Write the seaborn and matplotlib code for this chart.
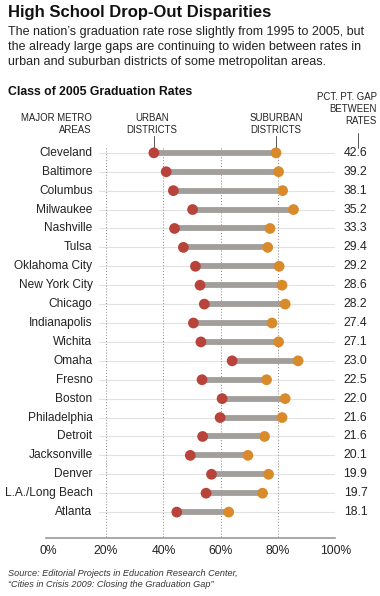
import pandas as pd
import matplotlib.pyplot as plt
import seaborn as sns

# Veriler
cities = ['Cleveland', 'Baltimore', 'Columbus', 'Milwaukee', 'Nashville', 'Tulsa',
          'Oklahoma City', 'New York City', 'Chicago', 'Indianapolis', 'Wichita',
          'Omaha', 'Fresno', 'Boston', 'Philadelphia', 'Detroit', 'Jacksonville',
          'Denver', 'L.A./Long Beach', 'Atlanta']
urban = [36.7, 41.0, 43.5, 50.2, 43.9, 47.0, 51.2, 52.8, 54.3, 50.5, 53.1,
         64.0, 53.5, 60.5, 59.8, 53.7, 49.4, 56.8, 54.9, 44.7]
suburban = [79.3, 80.2, 81.6, 85.4, 77.2, 76.4, 80.4, 81.4, 82.5, 77.9, 80.2,
            87.0, 76.0, 82.5, 81.4, 75.3, 69.5, 76.7, 74.6, 62.8]
gap_labels = ['42.6', '39.2', '38.1', '35.2', '33.3', '29.4', '29.2', '28.6', '28.2',
              '27.4', '27.1', '23.0', '22.5', '22.0', '21.6', '21.6', '20.1', '19.9',
              '19.7', '18.1']
x_ticks = [0, 20, 40, 60, 80, 100]

df = pd.DataFrame({'city': cities, 'urban': urban, 'suburban': suburban})
df['row'] = range(len(df))
long_df = df.melt(id_vars=['city', 'row'], value_vars=['urban', 'suburban'],
                  var_name='type', value_name='rate')

sns.set_style('white')
plt.rcParams['font.family'] = ['Liberation Sans', 'DejaVu Sans']

RED = '#b8433a'
ORANGE = '#d98b2b'
BAR = '#a19e9b'
TXT = '#222222'

fig = plt.figure(figsize=(3.8, 5.96), dpi=100)
ax = fig.add_axes([0.1205, 0.0973, 0.762, 0.678])

n = len(cities)
# satir cizgileri ve noktali dikey cizgiler
for r in range(n):
    ax.plot([17.5, 99.5], [r, r], color='#e2e2e2', lw=0.8, zorder=0)
for xv in [20, 40, 60, 80]:
    ax.plot([xv, xv], [-0.25, n + 0.4], color='#888888', lw=0.7,
            linestyle=(0, (1, 2)), zorder=0)

ax.hlines(df['row'], df['urban'], df['suburban'], color=BAR, lw=4.2, zorder=1)
sns.scatterplot(data=long_df, x='rate', y='row', hue='type',
                palette={'urban': RED, 'suburban': ORANGE},
                s=60, linewidth=0, legend=False, zorder=3, ax=ax)

ax.set_xlim(-1, 100)
ax.set_ylim(n - 1 + 1.37, -1)
ax.set_yticks([])
ax.set_xticks(x_ticks)
ax.set_xticklabels([f'{t}%' for t in x_ticks], fontsize=8.7, color=TXT)
ax.tick_params(axis='x', length=0, pad=5)
ax.set_xlabel('')
ax.set_ylabel('')
for s in ['top', 'left', 'right']:
    ax.spines[s].set_visible(False)
ax.spines['bottom'].set_color('#999999')
ax.spines['bottom'].set_linewidth(1.2)

# sehir adlari ve fark degerleri
for r in range(n):
    ax.text(15.3, r, cities[r], ha='right', va='center', fontsize=8.6, color=TXT)
    ax.text(111.2, r, gap_labels[r], ha='right', va='center', fontsize=8.8,
            color=TXT, clip_on=False)

# baslik ve aciklama
fig.text(0.021, 1 - 13 / 596, 'High School Drop-Out Disparities', fontsize=12,
         fontweight='bold', color='#111111', va='center')
sub = ("The nation\u2019s graduation rate rose slightly from 1995 to 2005, but\n"
       "the already large gaps are continuing to widen between rates in\n"
       "urban and suburban districts of some metropolitan areas.")
fig.text(0.021, 1 - 26 / 596, sub, fontsize=9.0, color=TXT, va='top',
         linespacing=1.33)
fig.text(0.021, 1 - 92 / 596, 'Class of 2005 Graduation Rates', fontsize=8.8,
         fontweight='bold', color='#111111', va='center')

# sutun basliklari
hs = 6.9
fig.text(92 / 380, 1 - 124.5 / 596, 'MAJOR METRO\nAREAS', fontsize=hs, color=TXT,
         ha='right', va='center', multialignment='right', linespacing=1.25)
fig.text(152 / 380, 1 - 124.5 / 596, 'URBAN\nDISTRICTS', fontsize=hs, color=TXT,
         ha='center', va='center', linespacing=1.25)
fig.text(276 / 380, 1 - 124.5 / 596, 'SUBURBAN\nDISTRICTS', fontsize=hs, color=TXT,
         ha='center', va='center', linespacing=1.25)
fig.text(377 / 380, 1 - 109 / 596, 'PCT. PT. GAP\nBETWEEN\nRATES', fontsize=hs,
         color=TXT, ha='right', va='center', multialignment='right', linespacing=1.25)

# isaret cizgileri
ax.plot([urban[0], urban[0]], [-0.9, -0.25], color='#555555', lw=0.7, clip_on=False)
ax.plot([suburban[0], suburban[0]], [-0.9, -0.25], color='#555555', lw=0.7, clip_on=False)
ax.plot([108.0, 108.0], [-1.05, -0.25], color='#555555', lw=0.7, clip_on=False)

# kaynak
fig.text(0.021, 1 - 579 / 596,
         'Source: Editorial Projects in Education Research Center,\n'
         '\u201cCities in Crisis 2009: Closing the Graduation Gap\u201d',
         fontsize=6.6, style='italic', color='#333333', va='center', linespacing=1.25)

plt.savefig('out.png', dpi=100)
